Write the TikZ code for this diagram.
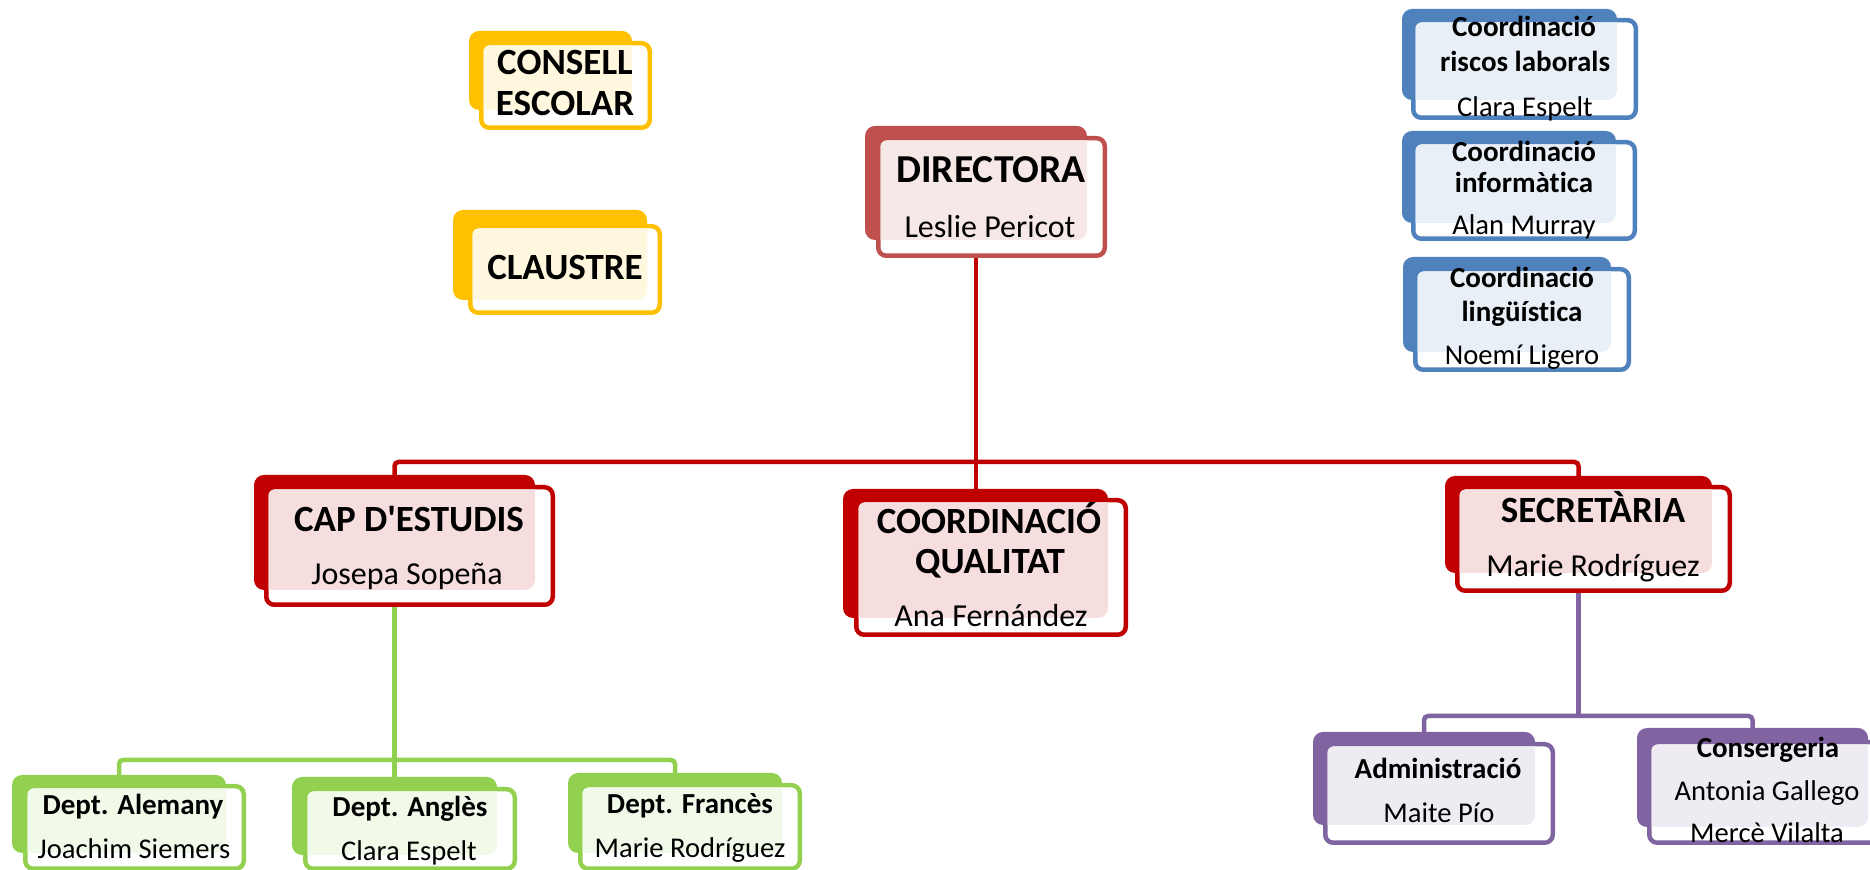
\documentclass[tikz,border=0pt]{standalone}
\usepackage{fontspec}
\setmainfont{Carlito}[Ligatures={NoCommon}]
\definecolor{orgyellow}{HTML}{FFC000}
\definecolor{orgrose}{HTML}{C0504D}
\definecolor{orgred}{HTML}{C00000}
\definecolor{orgblue}{HTML}{4F81BD}
\definecolor{orggreen}{HTML}{92D050}
\definecolor{orgpurple}{HTML}{8064A2}
\pgfdeclarelayer{bg}
\pgfsetlayers{bg,main}
\tikzset{
  ttl/.style={font=\bfseries\fontsize{18.5}{22}\selectfont, anchor=base, inner sep=0pt},
  nm/.style={font=\fontsize{16}{19}\selectfont, anchor=base, inner sep=0pt},
  sttl/.style={font=\bfseries\fontsize{14.5}{17}\selectfont, anchor=base, inner sep=0pt},
  snm/.style={font=\fontsize{14.3}{17}\selectfont, anchor=base, inner sep=0pt},
  conn/.style={line width=2.25pt, rounded corners=2pt},
}
\begin{document}
\begin{tikzpicture}[x=0.5pt,y=-0.5pt]

\useasboundingbox (0,0) rectangle (1870,870);

% The cards: back card, front card, tinted overlap
\foreach \nm/\col/\bl/\bt/\br/\bb/\fl/\ft/\fr/\fb in {
  consell/orgyellow/469/31/632/110/479/41/652/130,
  claus/orgyellow/453/210/647/300/468/224/662/315,
  dir/orgrose/865/126/1087/240/876/136/1107/258,
  cap/orgred/254/475/535/590/264/485/555/607,
  qual/orgred/843/489/1108/618/854/498/1128/637,
  sec/orgred/1445/476/1712/573/1455/485/1732/593,
  risc/orgblue/1402/9/1617/100/1411/18/1638/120,
  info/orgblue/1402/131/1616/223/1411/140/1637/241,
  ling/orgblue/1403/257/1611/352/1413/267/1631/372,
  alem/orggreen/12/775/226/853/23/784/246/871,
  angl/orggreen/292/777/497/855/303/787/517/871,
  fran/orggreen/568/773/782/853/578/783/802/871,
  admin/orgpurple/1313/732/1535/825/1323/742/1555/845,
  conser/orgpurple/1637/728/1868/827/1647/740/1890/845}
{
  \fill[\col, rounded corners=5pt] (\bl,\bt) rectangle (\br,\bb);
  \draw[\col, fill=white, line width=2.25pt, rounded corners=4pt]
    (\fl+2.25,\ft+2.25) rectangle (\fr-2.25,\fb-2.25);
  \begin{scope}
    \clip[rounded corners=3pt] (\fl+4.5,\ft+4.5) rectangle (\fr-4.5,\fb-4.5);
    \fill[\col!13!white, rounded corners=5pt] (\bl,\bt) rectangle (\br,\bb);
  \end{scope}
  \coordinate (\nm) at ({(\bl+\br)/2},{(\bt+\bb)/2});
}

% The bars
\coordinate (redbar) at (0,462);
\coordinate (grnbar) at (0,760);
\coordinate (purbar) at (0,716);

\begin{pgfonlayer}{bg}
\draw[conn,orgred] (dir) -- (dir |- qual);
\draw[conn,orgred] (cap) -- (cap |- redbar) -- (sec |- redbar) -- (sec);
\draw[conn,orggreen] (cap) -- (cap |- grnbar);
\draw[conn,orggreen] (alem) -- (alem |- grnbar) -- (fran |- grnbar) -- (fran);
\draw[conn,orggreen] (angl) -- (angl |- grnbar);
\draw[conn,orgpurple] (sec) -- (sec |- purbar);
\draw[conn,orgpurple] (admin) -- (admin |- purbar) -- (conser |- purbar) -- (conser);
\end{pgfonlayer}

% The texts
\node[ttl] (consell-t1) at (565,75) {CONSELL};
\node[ttl] (consell-t2) at (565,116) {ESCOLAR};
\node[ttl] (claus-t) at (565,280) {CLAUSTRE};

\node[ttl, font=\bfseries\fontsize{19.8}{23}\selectfont] (dir-t) at (991,183) {DIRECTORA};
\node[nm] (dir-n) at (990,238) {Leslie Pericot};

\node[ttl] (cap-t) at (409,532) {CAP D\textquotesingle ESTUDIS};
\node[nm] (cap-n) at (407,585) {Josepa Sopeña};

\node[ttl] (qual-t1) at (989,534) {COORDINACIÓ};
\node[ttl] (qual-t2) at (990,574) {QUALITAT};
\node[nm] (qual-n) at (991,627) {Ana Fernández};

\node[ttl] (sec-t) at (1593,523) {SECRETÀRIA};
\node[nm] (sec-n) at (1593,577) {Marie Rodríguez};

\node[sttl] (risc-t1) at (1524,37) {Coordinació};
\node[sttl] (risc-t2) at (1525,72) {riscos laborals};
\node[snm] (risc-n) at (1525,117) {Clara Espelt};

\node[sttl] (info-t1) at (1524,162) {Coordinació};
\node[sttl] (info-t2) at (1524,193) {informàtica};
\node[snm] (info-n) at (1524,235) {Alan Murray};

\node[sttl] (ling-t1) at (1522,288) {Coordinació};
\node[sttl] (ling-t2) at (1522,322) {lingüística};
\node[snm] (ling-n) at (1522,365) {Noemí Ligero};

\node[sttl] (alem-t) at (133,815) {Dept. Alemany};
\node[snm] (alem-n) at (134,859) {Joachim Siemers};

\node[sttl] (angl-t) at (410,817) {Dept. Anglès};
\node[snm] (angl-n) at (409,861) {Clara Espelt};

\node[sttl] (fran-t) at (690,814) {Dept. Francès};
\node[snm] (fran-n) at (690,858) {Marie Rodríguez};

\node[sttl] (admin-t) at (1438,779) {Administració};
\node[snm] (admin-n) at (1439,823) {Maite Pío};

\node[sttl] (conser-t) at (1768,758) {Consergeria};
\node[snm] (conser-n1) at (1767,801) {Antonia Gallego};
\node[snm] (conser-n2) at (1767,843) {Mercè Vilalta};

\end{tikzpicture}
\end{document}
